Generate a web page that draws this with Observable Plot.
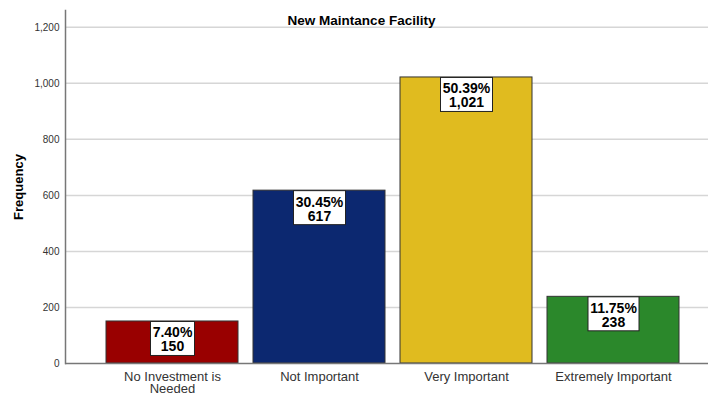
<!DOCTYPE html>
<html>
<head>
<meta charset="utf-8">
<script src="https://cdn.jsdelivr.net/npm/d3@7"></script>
<script src="https://cdn.jsdelivr.net/npm/@observablehq/plot@0.6"></script>
<style>
  html, body { margin: 0; padding: 0; background: #fff; }
  #chart svg { display: block; font-family: Arial, "Liberation Sans", sans-serif; }
</style>
</head>
<body>
<div id="chart"></div>
<script>
// Survey responses for "New Maintance Facility"
const categories = ["No Investment is Needed", "Not Important", "Very Important", "Extremely Important"];
const counts = [150, 617, 1021, 238];
const percents = ["7.40", "30.45", "50.39", "11.75"];
const barColors = ["#990000", "#0c2870", "#e0bb1f", "#2b882b"];
const yTicks = [0, 200, 400, 600, 800, 1000, 1200];
const title = "New Maintance Facility";

const data = categories.map((cat, i) => ({
  cat, count: counts[i], pct: percents[i], color: barColors[i]
}));

const fmt = d3.format(",");

// Greedy word wrap for long category names
function wrap(s, max = 19) {
  const words = s.split(" ");
  const lines = [];
  let cur = "";
  for (const w of words) {
    const next = cur ? cur + " " + w : w;
    if (next.length > max && cur) { lines.push(cur); cur = w; }
    else cur = next;
  }
  if (cur) lines.push(cur);
  return lines.join("\n");
}

// Measures label text so each value label gets a snug white box
const measureCtx = document.createElement("canvas").getContext("2d");
function textWidth(str, font) {
  measureCtx.font = font;
  return measureCtx.measureText(str).width;
}

const labelFont = "bold 14px Arial, 'Liberation Sans', sans-serif";
const labelDy = 6;
const boxHeight = 34;

function boxedLabels(index, scales, values, dimensions, context, next) {
  const g = next(index, scales, values, dimensions, context);
  const ns = "http://www.w3.org/2000/svg";
  const texts = Array.from(g.querySelectorAll("text"));
  texts.forEach((t, k) => {
    let tx = 0, ty = 0;
    const tr = t.getAttribute("transform");
    const m = tr && tr.match(/translate\(([-\d.e]+)[ ,]+([-\d.e]+)\)/);
    if (m) { tx = +m[1]; ty = +m[2]; }
    else { tx = +(t.getAttribute("x") || 0); ty = +(t.getAttribute("y") || 0); }
    const i = index[k];
    const d = data[i];
    const w = Math.ceil(Math.max(textWidth(d.pct + "%", labelFont), textWidth(fmt(d.count), labelFont))) + 4;
    const r = document.createElementNS(ns, "rect");
    r.setAttribute("x", tx - w / 2);
    r.setAttribute("y", ty - labelDy);
    r.setAttribute("width", w);
    r.setAttribute("height", boxHeight);
    r.setAttribute("fill", "#fff");
    r.setAttribute("stroke", "#222");
    r.setAttribute("stroke-width", 1);
    g.insertBefore(r, t);
  });
  return g;
}

const chart = Plot.plot({
  width: 708,
  height: 396,
  marginLeft: 65,
  marginRight: 0,
  marginTop: 10,
  marginBottom: 33,
  style: { fontFamily: "Arial, 'Liberation Sans', sans-serif", background: "#fff" },
  x: { domain: categories, range: [65, 720], paddingInner: 0.1, paddingOuter: 0.27, label: null },
  y: { domain: [0, 1260], label: null },
  marks: [
    Plot.ruleY(yTicks.filter(d => d > 0), { stroke: "#d6d6d6", strokeWidth: 1.5 }),
    Plot.barY(data, {
      x: "cat", y: "count", fill: "color", stroke: "#333", strokeWidth: 1
    }),
    Plot.ruleY([0], { stroke: "#777", strokeWidth: 1.5 }),
    Plot.frame({ anchor: "left", stroke: "#777", strokeWidth: 1.5 }),
    Plot.axisY({
      ticks: yTicks, tickSize: 0, tickPadding: 6, tickFormat: fmt,
      fontSize: 10, color: "#333", label: null
    }),
    Plot.axisX({
      tickSize: 0, tickPadding: 8, tickFormat: d => wrap(d),
      fontSize: 13, color: "#333", lineHeight: 0.98, label: null
    }),
    Plot.text(data, {
      x: "cat", y: "count",
      text: d => `${d.pct}%\n${fmt(d.count)}`,
      lineAnchor: "top", dy: labelDy, lineHeight: 1.0,
      fontSize: 14, fontWeight: "bold", fill: "#000",
      render: boxedLabels
    }),
    Plot.text(["Frequency"], {
      frameAnchor: "left", textAnchor: "middle", lineAnchor: "middle",
      rotate: -90, dx: -46.5,
      fontSize: 13, fontWeight: "bold", fill: "#000"
    }),
    Plot.text([title], {
      frameAnchor: "top", lineAnchor: "middle", dy: 10.5, dx: -25.5,
      fontSize: 13.5, fontWeight: "bold", fill: "#000"
    })
  ]
});

document.getElementById("chart").appendChild(chart);
</script>
</body>
</html>
